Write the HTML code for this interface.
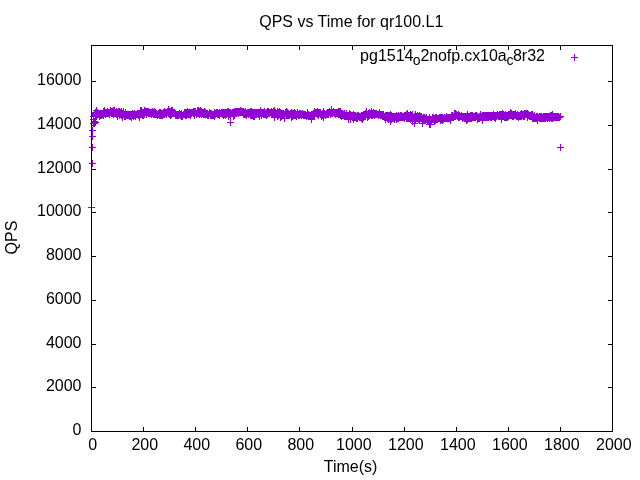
<!DOCTYPE html>
<html><head><meta charset="utf-8"><title>QPS vs Time for qr100.L1</title>
<style>
html,body{margin:0;padding:0;background:#fff}
svg{display:block}
text{font-family:"Liberation Sans",Arial,sans-serif;font-size:16px;fill:#000}
</style></head><body>
<svg width="640" height="480" viewBox="0 0 640 480">
<rect width="640" height="480" fill="#fff"/>
<text x="351.25" y="26.75" text-anchor="middle">QPS vs Time for qr100.L1</text>
<text transform="translate(16.8,237.5) rotate(-90)" text-anchor="middle">QPS</text>
<text x="350.6" y="472" text-anchor="middle">Time(s)</text>
<g><text x="92.8" y="450" text-anchor="middle">0</text><text x="144.8" y="450" text-anchor="middle">200</text><text x="196.8" y="450" text-anchor="middle">400</text><text x="248.8" y="450" text-anchor="middle">600</text><text x="300.8" y="450" text-anchor="middle">800</text><text x="353.8" y="450" text-anchor="middle">1000</text><text x="405.8" y="450" text-anchor="middle">1200</text><text x="457.8" y="450" text-anchor="middle">1400</text><text x="509.8" y="450" text-anchor="middle">1600</text><text x="561.8" y="450" text-anchor="middle">1800</text><text x="613.8" y="450" text-anchor="middle">2000</text></g>
<g><text x="81.5" y="435.0" text-anchor="end">0</text><text x="81.5" y="391.0" text-anchor="end">2000</text><text x="81.5" y="348.0" text-anchor="end">4000</text><text x="81.5" y="304.0" text-anchor="end">6000</text><text x="81.5" y="260.0" text-anchor="end">8000</text><text x="81.5" y="216.0" text-anchor="end">10000</text><text x="81.5" y="173.0" text-anchor="end">12000</text><text x="81.5" y="129.0" text-anchor="end">14000</text><text x="81.5" y="85.0" text-anchor="end">16000</text></g>
<text y="61"><tspan x="360.1">pg1514</tspan><tspan x="412.85" font-size="14" dy="3.5">o</tspan><tspan x="420.5" dy="-3.5" letter-spacing="-0.11">2nofp.cx10a</tspan><tspan x="506.6" font-size="14" dy="3.5">c</tspan><tspan x="512.97" dy="-3.5">8r32</tspan></text>
<path d="M143.5 431.5v-4.5M143.5 45.5v4.5M195.5 431.5v-4.5M195.5 45.5v4.5M247.5 431.5v-4.5M247.5 45.5v4.5M299.5 431.5v-4.5M299.5 45.5v4.5M352.5 431.5v-4.5M352.5 45.5v4.5M404.5 431.5v-4.5M404.5 45.5v4.5M456.5 431.5v-4.5M456.5 45.5v4.5M508.5 431.5v-4.5M508.5 45.5v4.5M560.5 431.5v-4.5M560.5 45.5v4.5M91.5 387.5h4.5M612.5 387.5h-4.5M91.5 344.5h4.5M612.5 344.5h-4.5M91.5 300.5h4.5M612.5 300.5h-4.5M91.5 256.5h4.5M612.5 256.5h-4.5M91.5 212.5h4.5M612.5 212.5h-4.5M91.5 169.5h4.5M612.5 169.5h-4.5M91.5 125.5h4.5M612.5 125.5h-4.5M91.5 81.5h4.5M612.5 81.5h-4.5" fill="none" stroke="#000" stroke-width="1"/>
<path d="M88 207.5h7m-3.5-3.5v7M89 163.5h7m-3.5-3.5v7M89 147.5h7m-3.5-3.5v7M89 136.5h7m-3.5-3.5v7M89 130.5h7m-3.5-3.5v7M90 123.5h7m-3.5-3.5v7M90 119.5h7m-3.5-3.5v7M90 116.5h7m-3.5-3.5v7M91 121.5h7m-3.5-3.5v7M92 122.5h7m-3.5-3.5v7M91 123.5h7m-3.5-3.5v7M91 113.5h7m-3.5-3.5v7M92 112.5h7m-3.5-3.5v7M92 114.5h7m-3.5-3.5v7M92 115.5h7m-3.5-3.5v7M92 113.5h7m-3.5-3.5v7M92 113.5h7m-3.5-3.5v7M93 113.5h7m-3.5-3.5v7M93 112.5h7m-3.5-3.5v7M93 110.5h7m-3.5-3.5v7M93 115.5h7m-3.5-3.5v7M94 114.5h7m-3.5-3.5v7M94 114.5h7m-3.5-3.5v7M94 112.5h7m-3.5-3.5v7M95 114.5h7m-3.5-3.5v7M95 113.5h7m-3.5-3.5v7M95 114.5h7m-3.5-3.5v7M95 113.5h7m-3.5-3.5v7M96 113.5h7m-3.5-3.5v7M96 113.5h7m-3.5-3.5v7M96 116.5h7m-3.5-3.5v7M96 113.5h7m-3.5-3.5v7M97 114.5h7m-3.5-3.5v7M97 113.5h7m-3.5-3.5v7M97 115.5h7m-3.5-3.5v7M97 115.5h7m-3.5-3.5v7M98 114.5h7m-3.5-3.5v7M98 115.5h7m-3.5-3.5v7M98 114.5h7m-3.5-3.5v7M98 113.5h7m-3.5-3.5v7M99 114.5h7m-3.5-3.5v7M99 113.5h7m-3.5-3.5v7M99 114.5h7m-3.5-3.5v7M99 114.5h7m-3.5-3.5v7M100 112.5h7m-3.5-3.5v7M100 115.5h7m-3.5-3.5v7M100 111.5h7m-3.5-3.5v7M101 111.5h7m-3.5-3.5v7M101 113.5h7m-3.5-3.5v7M101 110.5h7m-3.5-3.5v7M101 111.5h7m-3.5-3.5v7M102 114.5h7m-3.5-3.5v7M102 113.5h7m-3.5-3.5v7M102 112.5h7m-3.5-3.5v7M102 112.5h7m-3.5-3.5v7M103 112.5h7m-3.5-3.5v7M103 113.5h7m-3.5-3.5v7M103 112.5h7m-3.5-3.5v7M103 112.5h7m-3.5-3.5v7M104 111.5h7m-3.5-3.5v7M104 113.5h7m-3.5-3.5v7M104 111.5h7m-3.5-3.5v7M104 112.5h7m-3.5-3.5v7M105 112.5h7m-3.5-3.5v7M105 112.5h7m-3.5-3.5v7M105 113.5h7m-3.5-3.5v7M105 112.5h7m-3.5-3.5v7M106 112.5h7m-3.5-3.5v7M106 112.5h7m-3.5-3.5v7M106 112.5h7m-3.5-3.5v7M106 114.5h7m-3.5-3.5v7M107 112.5h7m-3.5-3.5v7M107 110.5h7m-3.5-3.5v7M107 112.5h7m-3.5-3.5v7M108 113.5h7m-3.5-3.5v7M108 113.5h7m-3.5-3.5v7M108 112.5h7m-3.5-3.5v7M108 111.5h7m-3.5-3.5v7M109 111.5h7m-3.5-3.5v7M109 113.5h7m-3.5-3.5v7M109 113.5h7m-3.5-3.5v7M109 113.5h7m-3.5-3.5v7M110 114.5h7m-3.5-3.5v7M110 110.5h7m-3.5-3.5v7M110 113.5h7m-3.5-3.5v7M110 113.5h7m-3.5-3.5v7M111 111.5h7m-3.5-3.5v7M111 111.5h7m-3.5-3.5v7M111 113.5h7m-3.5-3.5v7M111 110.5h7m-3.5-3.5v7M112 112.5h7m-3.5-3.5v7M112 112.5h7m-3.5-3.5v7M112 113.5h7m-3.5-3.5v7M112 113.5h7m-3.5-3.5v7M113 114.5h7m-3.5-3.5v7M113 111.5h7m-3.5-3.5v7M113 113.5h7m-3.5-3.5v7M114 116.5h7m-3.5-3.5v7M114 113.5h7m-3.5-3.5v7M114 112.5h7m-3.5-3.5v7M114 112.5h7m-3.5-3.5v7M115 112.5h7m-3.5-3.5v7M115 112.5h7m-3.5-3.5v7M115 113.5h7m-3.5-3.5v7M115 111.5h7m-3.5-3.5v7M116 113.5h7m-3.5-3.5v7M116 112.5h7m-3.5-3.5v7M116 115.5h7m-3.5-3.5v7M116 111.5h7m-3.5-3.5v7M117 114.5h7m-3.5-3.5v7M117 114.5h7m-3.5-3.5v7M117 112.5h7m-3.5-3.5v7M117 112.5h7m-3.5-3.5v7M118 115.5h7m-3.5-3.5v7M118 115.5h7m-3.5-3.5v7M118 111.5h7m-3.5-3.5v7M118 114.5h7m-3.5-3.5v7M119 113.5h7m-3.5-3.5v7M119 117.5h7m-3.5-3.5v7M119 115.5h7m-3.5-3.5v7M120 114.5h7m-3.5-3.5v7M120 114.5h7m-3.5-3.5v7M120 111.5h7m-3.5-3.5v7M120 114.5h7m-3.5-3.5v7M121 115.5h7m-3.5-3.5v7M121 115.5h7m-3.5-3.5v7M121 116.5h7m-3.5-3.5v7M121 114.5h7m-3.5-3.5v7M122 113.5h7m-3.5-3.5v7M122 116.5h7m-3.5-3.5v7M122 115.5h7m-3.5-3.5v7M122 112.5h7m-3.5-3.5v7M123 114.5h7m-3.5-3.5v7M123 115.5h7m-3.5-3.5v7M123 115.5h7m-3.5-3.5v7M123 115.5h7m-3.5-3.5v7M124 114.5h7m-3.5-3.5v7M124 115.5h7m-3.5-3.5v7M124 115.5h7m-3.5-3.5v7M124 115.5h7m-3.5-3.5v7M125 114.5h7m-3.5-3.5v7M125 114.5h7m-3.5-3.5v7M125 115.5h7m-3.5-3.5v7M126 114.5h7m-3.5-3.5v7M126 114.5h7m-3.5-3.5v7M126 116.5h7m-3.5-3.5v7M126 115.5h7m-3.5-3.5v7M127 116.5h7m-3.5-3.5v7M127 114.5h7m-3.5-3.5v7M127 115.5h7m-3.5-3.5v7M127 116.5h7m-3.5-3.5v7M128 115.5h7m-3.5-3.5v7M128 117.5h7m-3.5-3.5v7M128 114.5h7m-3.5-3.5v7M128 115.5h7m-3.5-3.5v7M129 113.5h7m-3.5-3.5v7M129 115.5h7m-3.5-3.5v7M129 115.5h7m-3.5-3.5v7M129 114.5h7m-3.5-3.5v7M130 115.5h7m-3.5-3.5v7M130 115.5h7m-3.5-3.5v7M130 116.5h7m-3.5-3.5v7M130 114.5h7m-3.5-3.5v7M131 113.5h7m-3.5-3.5v7M131 115.5h7m-3.5-3.5v7M131 114.5h7m-3.5-3.5v7M132 114.5h7m-3.5-3.5v7M132 116.5h7m-3.5-3.5v7M132 115.5h7m-3.5-3.5v7M132 114.5h7m-3.5-3.5v7M133 114.5h7m-3.5-3.5v7M133 114.5h7m-3.5-3.5v7M133 114.5h7m-3.5-3.5v7M133 114.5h7m-3.5-3.5v7M134 114.5h7m-3.5-3.5v7M134 113.5h7m-3.5-3.5v7M134 114.5h7m-3.5-3.5v7M134 114.5h7m-3.5-3.5v7M135 114.5h7m-3.5-3.5v7M135 115.5h7m-3.5-3.5v7M135 114.5h7m-3.5-3.5v7M135 113.5h7m-3.5-3.5v7M136 114.5h7m-3.5-3.5v7M136 117.5h7m-3.5-3.5v7M136 113.5h7m-3.5-3.5v7M136 113.5h7m-3.5-3.5v7M137 114.5h7m-3.5-3.5v7M137 110.5h7m-3.5-3.5v7M137 113.5h7m-3.5-3.5v7M137 113.5h7m-3.5-3.5v7M138 110.5h7m-3.5-3.5v7M138 112.5h7m-3.5-3.5v7M138 113.5h7m-3.5-3.5v7M139 115.5h7m-3.5-3.5v7M139 113.5h7m-3.5-3.5v7M139 114.5h7m-3.5-3.5v7M139 112.5h7m-3.5-3.5v7M140 112.5h7m-3.5-3.5v7M140 114.5h7m-3.5-3.5v7M140 112.5h7m-3.5-3.5v7M140 115.5h7m-3.5-3.5v7M141 110.5h7m-3.5-3.5v7M141 114.5h7m-3.5-3.5v7M141 114.5h7m-3.5-3.5v7M141 112.5h7m-3.5-3.5v7M142 112.5h7m-3.5-3.5v7M142 111.5h7m-3.5-3.5v7M142 111.5h7m-3.5-3.5v7M142 112.5h7m-3.5-3.5v7M143 111.5h7m-3.5-3.5v7M143 111.5h7m-3.5-3.5v7M143 113.5h7m-3.5-3.5v7M143 114.5h7m-3.5-3.5v7M144 111.5h7m-3.5-3.5v7M144 112.5h7m-3.5-3.5v7M144 112.5h7m-3.5-3.5v7M145 113.5h7m-3.5-3.5v7M145 111.5h7m-3.5-3.5v7M145 113.5h7m-3.5-3.5v7M145 113.5h7m-3.5-3.5v7M146 112.5h7m-3.5-3.5v7M146 112.5h7m-3.5-3.5v7M146 113.5h7m-3.5-3.5v7M146 112.5h7m-3.5-3.5v7M147 112.5h7m-3.5-3.5v7M147 112.5h7m-3.5-3.5v7M147 112.5h7m-3.5-3.5v7M147 113.5h7m-3.5-3.5v7M148 112.5h7m-3.5-3.5v7M148 114.5h7m-3.5-3.5v7M148 112.5h7m-3.5-3.5v7M148 114.5h7m-3.5-3.5v7M149 113.5h7m-3.5-3.5v7M149 113.5h7m-3.5-3.5v7M149 113.5h7m-3.5-3.5v7M149 111.5h7m-3.5-3.5v7M150 113.5h7m-3.5-3.5v7M150 112.5h7m-3.5-3.5v7M150 114.5h7m-3.5-3.5v7M151 113.5h7m-3.5-3.5v7M151 114.5h7m-3.5-3.5v7M151 111.5h7m-3.5-3.5v7M151 113.5h7m-3.5-3.5v7M152 113.5h7m-3.5-3.5v7M152 114.5h7m-3.5-3.5v7M152 114.5h7m-3.5-3.5v7M152 112.5h7m-3.5-3.5v7M153 114.5h7m-3.5-3.5v7M153 113.5h7m-3.5-3.5v7M153 113.5h7m-3.5-3.5v7M153 114.5h7m-3.5-3.5v7M154 114.5h7m-3.5-3.5v7M154 115.5h7m-3.5-3.5v7M154 115.5h7m-3.5-3.5v7M154 114.5h7m-3.5-3.5v7M155 114.5h7m-3.5-3.5v7M155 113.5h7m-3.5-3.5v7M155 113.5h7m-3.5-3.5v7M155 113.5h7m-3.5-3.5v7M156 113.5h7m-3.5-3.5v7M156 115.5h7m-3.5-3.5v7M156 112.5h7m-3.5-3.5v7M157 115.5h7m-3.5-3.5v7M157 112.5h7m-3.5-3.5v7M157 115.5h7m-3.5-3.5v7M157 112.5h7m-3.5-3.5v7M158 114.5h7m-3.5-3.5v7M158 114.5h7m-3.5-3.5v7M158 113.5h7m-3.5-3.5v7M158 115.5h7m-3.5-3.5v7M159 113.5h7m-3.5-3.5v7M159 115.5h7m-3.5-3.5v7M159 113.5h7m-3.5-3.5v7M159 113.5h7m-3.5-3.5v7M160 114.5h7m-3.5-3.5v7M160 112.5h7m-3.5-3.5v7M160 113.5h7m-3.5-3.5v7M160 114.5h7m-3.5-3.5v7M161 111.5h7m-3.5-3.5v7M161 113.5h7m-3.5-3.5v7M161 112.5h7m-3.5-3.5v7M161 114.5h7m-3.5-3.5v7M162 113.5h7m-3.5-3.5v7M162 112.5h7m-3.5-3.5v7M162 113.5h7m-3.5-3.5v7M163 112.5h7m-3.5-3.5v7M163 114.5h7m-3.5-3.5v7M163 112.5h7m-3.5-3.5v7M163 112.5h7m-3.5-3.5v7M164 112.5h7m-3.5-3.5v7M164 111.5h7m-3.5-3.5v7M164 111.5h7m-3.5-3.5v7M164 111.5h7m-3.5-3.5v7M165 113.5h7m-3.5-3.5v7M165 110.5h7m-3.5-3.5v7M165 113.5h7m-3.5-3.5v7M165 109.5h7m-3.5-3.5v7M166 114.5h7m-3.5-3.5v7M166 111.5h7m-3.5-3.5v7M166 111.5h7m-3.5-3.5v7M166 114.5h7m-3.5-3.5v7M167 112.5h7m-3.5-3.5v7M167 113.5h7m-3.5-3.5v7M167 115.5h7m-3.5-3.5v7M167 111.5h7m-3.5-3.5v7M168 112.5h7m-3.5-3.5v7M168 114.5h7m-3.5-3.5v7M168 110.5h7m-3.5-3.5v7M168 111.5h7m-3.5-3.5v7M169 112.5h7m-3.5-3.5v7M169 113.5h7m-3.5-3.5v7M169 110.5h7m-3.5-3.5v7M170 113.5h7m-3.5-3.5v7M170 112.5h7m-3.5-3.5v7M170 112.5h7m-3.5-3.5v7M170 113.5h7m-3.5-3.5v7M171 112.5h7m-3.5-3.5v7M171 113.5h7m-3.5-3.5v7M171 113.5h7m-3.5-3.5v7M171 113.5h7m-3.5-3.5v7M172 114.5h7m-3.5-3.5v7M172 114.5h7m-3.5-3.5v7M172 113.5h7m-3.5-3.5v7M172 115.5h7m-3.5-3.5v7M173 114.5h7m-3.5-3.5v7M173 114.5h7m-3.5-3.5v7M173 115.5h7m-3.5-3.5v7M173 114.5h7m-3.5-3.5v7M174 114.5h7m-3.5-3.5v7M174 114.5h7m-3.5-3.5v7M174 115.5h7m-3.5-3.5v7M174 115.5h7m-3.5-3.5v7M175 114.5h7m-3.5-3.5v7M175 114.5h7m-3.5-3.5v7M175 115.5h7m-3.5-3.5v7M176 114.5h7m-3.5-3.5v7M176 114.5h7m-3.5-3.5v7M176 114.5h7m-3.5-3.5v7M176 113.5h7m-3.5-3.5v7M177 114.5h7m-3.5-3.5v7M177 114.5h7m-3.5-3.5v7M177 115.5h7m-3.5-3.5v7M177 115.5h7m-3.5-3.5v7M178 113.5h7m-3.5-3.5v7M178 116.5h7m-3.5-3.5v7M178 115.5h7m-3.5-3.5v7M178 114.5h7m-3.5-3.5v7M179 115.5h7m-3.5-3.5v7M179 115.5h7m-3.5-3.5v7M179 115.5h7m-3.5-3.5v7M179 116.5h7m-3.5-3.5v7M180 114.5h7m-3.5-3.5v7M180 114.5h7m-3.5-3.5v7M180 114.5h7m-3.5-3.5v7M180 114.5h7m-3.5-3.5v7M181 114.5h7m-3.5-3.5v7M181 113.5h7m-3.5-3.5v7M181 112.5h7m-3.5-3.5v7M182 113.5h7m-3.5-3.5v7M182 112.5h7m-3.5-3.5v7M182 115.5h7m-3.5-3.5v7M182 113.5h7m-3.5-3.5v7M183 112.5h7m-3.5-3.5v7M183 113.5h7m-3.5-3.5v7M183 115.5h7m-3.5-3.5v7M183 113.5h7m-3.5-3.5v7M184 113.5h7m-3.5-3.5v7M184 113.5h7m-3.5-3.5v7M184 111.5h7m-3.5-3.5v7M184 114.5h7m-3.5-3.5v7M185 113.5h7m-3.5-3.5v7M185 112.5h7m-3.5-3.5v7M185 112.5h7m-3.5-3.5v7M185 114.5h7m-3.5-3.5v7M186 113.5h7m-3.5-3.5v7M186 114.5h7m-3.5-3.5v7M186 112.5h7m-3.5-3.5v7M186 114.5h7m-3.5-3.5v7M187 112.5h7m-3.5-3.5v7M187 112.5h7m-3.5-3.5v7M187 115.5h7m-3.5-3.5v7M188 112.5h7m-3.5-3.5v7M188 112.5h7m-3.5-3.5v7M188 112.5h7m-3.5-3.5v7M188 113.5h7m-3.5-3.5v7M189 112.5h7m-3.5-3.5v7M189 112.5h7m-3.5-3.5v7M189 112.5h7m-3.5-3.5v7M189 112.5h7m-3.5-3.5v7M190 112.5h7m-3.5-3.5v7M190 111.5h7m-3.5-3.5v7M190 111.5h7m-3.5-3.5v7M190 113.5h7m-3.5-3.5v7M191 115.5h7m-3.5-3.5v7M191 114.5h7m-3.5-3.5v7M191 112.5h7m-3.5-3.5v7M191 111.5h7m-3.5-3.5v7M192 111.5h7m-3.5-3.5v7M192 111.5h7m-3.5-3.5v7M192 112.5h7m-3.5-3.5v7M192 111.5h7m-3.5-3.5v7M193 113.5h7m-3.5-3.5v7M193 114.5h7m-3.5-3.5v7M193 114.5h7m-3.5-3.5v7M194 110.5h7m-3.5-3.5v7M194 111.5h7m-3.5-3.5v7M194 111.5h7m-3.5-3.5v7M194 113.5h7m-3.5-3.5v7M195 110.5h7m-3.5-3.5v7M195 113.5h7m-3.5-3.5v7M195 112.5h7m-3.5-3.5v7M195 113.5h7m-3.5-3.5v7M196 111.5h7m-3.5-3.5v7M196 114.5h7m-3.5-3.5v7M196 113.5h7m-3.5-3.5v7M196 112.5h7m-3.5-3.5v7M197 113.5h7m-3.5-3.5v7M197 110.5h7m-3.5-3.5v7M197 112.5h7m-3.5-3.5v7M197 112.5h7m-3.5-3.5v7M198 111.5h7m-3.5-3.5v7M198 114.5h7m-3.5-3.5v7M198 113.5h7m-3.5-3.5v7M198 112.5h7m-3.5-3.5v7M199 112.5h7m-3.5-3.5v7M199 112.5h7m-3.5-3.5v7M199 113.5h7m-3.5-3.5v7M199 113.5h7m-3.5-3.5v7M200 114.5h7m-3.5-3.5v7M200 113.5h7m-3.5-3.5v7M200 112.5h7m-3.5-3.5v7M201 112.5h7m-3.5-3.5v7M201 111.5h7m-3.5-3.5v7M201 114.5h7m-3.5-3.5v7M201 113.5h7m-3.5-3.5v7M202 112.5h7m-3.5-3.5v7M202 113.5h7m-3.5-3.5v7M202 114.5h7m-3.5-3.5v7M202 114.5h7m-3.5-3.5v7M203 114.5h7m-3.5-3.5v7M203 113.5h7m-3.5-3.5v7M203 114.5h7m-3.5-3.5v7M203 114.5h7m-3.5-3.5v7M204 114.5h7m-3.5-3.5v7M204 114.5h7m-3.5-3.5v7M204 115.5h7m-3.5-3.5v7M204 113.5h7m-3.5-3.5v7M205 115.5h7m-3.5-3.5v7M205 114.5h7m-3.5-3.5v7M205 114.5h7m-3.5-3.5v7M205 114.5h7m-3.5-3.5v7M206 113.5h7m-3.5-3.5v7M206 113.5h7m-3.5-3.5v7M206 112.5h7m-3.5-3.5v7M207 115.5h7m-3.5-3.5v7M207 113.5h7m-3.5-3.5v7M207 114.5h7m-3.5-3.5v7M207 115.5h7m-3.5-3.5v7M208 113.5h7m-3.5-3.5v7M208 115.5h7m-3.5-3.5v7M208 114.5h7m-3.5-3.5v7M208 113.5h7m-3.5-3.5v7M209 114.5h7m-3.5-3.5v7M209 114.5h7m-3.5-3.5v7M209 115.5h7m-3.5-3.5v7M209 115.5h7m-3.5-3.5v7M210 114.5h7m-3.5-3.5v7M210 115.5h7m-3.5-3.5v7M210 114.5h7m-3.5-3.5v7M210 114.5h7m-3.5-3.5v7M211 112.5h7m-3.5-3.5v7M211 112.5h7m-3.5-3.5v7M211 114.5h7m-3.5-3.5v7M211 116.5h7m-3.5-3.5v7M212 114.5h7m-3.5-3.5v7M212 113.5h7m-3.5-3.5v7M212 114.5h7m-3.5-3.5v7M213 113.5h7m-3.5-3.5v7M213 112.5h7m-3.5-3.5v7M213 112.5h7m-3.5-3.5v7M213 112.5h7m-3.5-3.5v7M214 112.5h7m-3.5-3.5v7M214 112.5h7m-3.5-3.5v7M214 114.5h7m-3.5-3.5v7M214 114.5h7m-3.5-3.5v7M215 113.5h7m-3.5-3.5v7M215 114.5h7m-3.5-3.5v7M215 113.5h7m-3.5-3.5v7M215 114.5h7m-3.5-3.5v7M216 112.5h7m-3.5-3.5v7M216 114.5h7m-3.5-3.5v7M216 113.5h7m-3.5-3.5v7M216 115.5h7m-3.5-3.5v7M217 113.5h7m-3.5-3.5v7M217 113.5h7m-3.5-3.5v7M217 113.5h7m-3.5-3.5v7M217 113.5h7m-3.5-3.5v7M218 112.5h7m-3.5-3.5v7M218 112.5h7m-3.5-3.5v7M218 113.5h7m-3.5-3.5v7M219 114.5h7m-3.5-3.5v7M219 112.5h7m-3.5-3.5v7M219 113.5h7m-3.5-3.5v7M219 112.5h7m-3.5-3.5v7M220 113.5h7m-3.5-3.5v7M220 115.5h7m-3.5-3.5v7M220 113.5h7m-3.5-3.5v7M220 112.5h7m-3.5-3.5v7M221 114.5h7m-3.5-3.5v7M221 114.5h7m-3.5-3.5v7M221 113.5h7m-3.5-3.5v7M221 112.5h7m-3.5-3.5v7M222 113.5h7m-3.5-3.5v7M222 112.5h7m-3.5-3.5v7M222 115.5h7m-3.5-3.5v7M222 113.5h7m-3.5-3.5v7M223 114.5h7m-3.5-3.5v7M223 114.5h7m-3.5-3.5v7M223 112.5h7m-3.5-3.5v7M223 112.5h7m-3.5-3.5v7M224 111.5h7m-3.5-3.5v7M224 112.5h7m-3.5-3.5v7M224 111.5h7m-3.5-3.5v7M225 116.5h7m-3.5-3.5v7M225 113.5h7m-3.5-3.5v7M225 114.5h7m-3.5-3.5v7M225 111.5h7m-3.5-3.5v7M226 112.5h7m-3.5-3.5v7M226 112.5h7m-3.5-3.5v7M226 114.5h7m-3.5-3.5v7M226 114.5h7m-3.5-3.5v7M227 112.5h7m-3.5-3.5v7M227 115.5h7m-3.5-3.5v7M227 112.5h7m-3.5-3.5v7M227 114.5h7m-3.5-3.5v7M228 113.5h7m-3.5-3.5v7M228 113.5h7m-3.5-3.5v7M228 113.5h7m-3.5-3.5v7M228 113.5h7m-3.5-3.5v7M229 112.5h7m-3.5-3.5v7M229 113.5h7m-3.5-3.5v7M229 113.5h7m-3.5-3.5v7M229 113.5h7m-3.5-3.5v7M230 116.5h7m-3.5-3.5v7M230 112.5h7m-3.5-3.5v7M230 114.5h7m-3.5-3.5v7M230 113.5h7m-3.5-3.5v7M231 111.5h7m-3.5-3.5v7M231 111.5h7m-3.5-3.5v7M231 115.5h7m-3.5-3.5v7M232 112.5h7m-3.5-3.5v7M232 112.5h7m-3.5-3.5v7M232 111.5h7m-3.5-3.5v7M232 111.5h7m-3.5-3.5v7M233 111.5h7m-3.5-3.5v7M233 111.5h7m-3.5-3.5v7M233 111.5h7m-3.5-3.5v7M233 112.5h7m-3.5-3.5v7M234 111.5h7m-3.5-3.5v7M234 112.5h7m-3.5-3.5v7M234 111.5h7m-3.5-3.5v7M234 111.5h7m-3.5-3.5v7M235 112.5h7m-3.5-3.5v7M235 113.5h7m-3.5-3.5v7M235 111.5h7m-3.5-3.5v7M235 111.5h7m-3.5-3.5v7M236 111.5h7m-3.5-3.5v7M236 112.5h7m-3.5-3.5v7M236 111.5h7m-3.5-3.5v7M236 112.5h7m-3.5-3.5v7M237 111.5h7m-3.5-3.5v7M237 112.5h7m-3.5-3.5v7M237 110.5h7m-3.5-3.5v7M238 112.5h7m-3.5-3.5v7M238 112.5h7m-3.5-3.5v7M238 112.5h7m-3.5-3.5v7M238 111.5h7m-3.5-3.5v7M239 111.5h7m-3.5-3.5v7M239 112.5h7m-3.5-3.5v7M239 112.5h7m-3.5-3.5v7M239 112.5h7m-3.5-3.5v7M240 114.5h7m-3.5-3.5v7M240 113.5h7m-3.5-3.5v7M240 113.5h7m-3.5-3.5v7M240 111.5h7m-3.5-3.5v7M241 113.5h7m-3.5-3.5v7M241 112.5h7m-3.5-3.5v7M241 114.5h7m-3.5-3.5v7M241 113.5h7m-3.5-3.5v7M242 113.5h7m-3.5-3.5v7M242 114.5h7m-3.5-3.5v7M242 111.5h7m-3.5-3.5v7M242 114.5h7m-3.5-3.5v7M243 115.5h7m-3.5-3.5v7M243 115.5h7m-3.5-3.5v7M243 113.5h7m-3.5-3.5v7M244 112.5h7m-3.5-3.5v7M244 113.5h7m-3.5-3.5v7M244 113.5h7m-3.5-3.5v7M244 113.5h7m-3.5-3.5v7M245 113.5h7m-3.5-3.5v7M245 114.5h7m-3.5-3.5v7M245 113.5h7m-3.5-3.5v7M245 112.5h7m-3.5-3.5v7M246 112.5h7m-3.5-3.5v7M246 112.5h7m-3.5-3.5v7M246 113.5h7m-3.5-3.5v7M246 113.5h7m-3.5-3.5v7M247 112.5h7m-3.5-3.5v7M247 115.5h7m-3.5-3.5v7M247 111.5h7m-3.5-3.5v7M247 114.5h7m-3.5-3.5v7M248 111.5h7m-3.5-3.5v7M248 112.5h7m-3.5-3.5v7M248 112.5h7m-3.5-3.5v7M248 115.5h7m-3.5-3.5v7M249 115.5h7m-3.5-3.5v7M249 114.5h7m-3.5-3.5v7M249 112.5h7m-3.5-3.5v7M250 116.5h7m-3.5-3.5v7M250 115.5h7m-3.5-3.5v7M250 112.5h7m-3.5-3.5v7M250 113.5h7m-3.5-3.5v7M251 116.5h7m-3.5-3.5v7M251 113.5h7m-3.5-3.5v7M251 113.5h7m-3.5-3.5v7M251 112.5h7m-3.5-3.5v7M252 113.5h7m-3.5-3.5v7M252 113.5h7m-3.5-3.5v7M252 114.5h7m-3.5-3.5v7M252 112.5h7m-3.5-3.5v7M253 113.5h7m-3.5-3.5v7M253 112.5h7m-3.5-3.5v7M253 113.5h7m-3.5-3.5v7M253 114.5h7m-3.5-3.5v7M254 113.5h7m-3.5-3.5v7M254 113.5h7m-3.5-3.5v7M254 113.5h7m-3.5-3.5v7M254 112.5h7m-3.5-3.5v7M255 114.5h7m-3.5-3.5v7M255 112.5h7m-3.5-3.5v7M255 112.5h7m-3.5-3.5v7M256 116.5h7m-3.5-3.5v7M256 112.5h7m-3.5-3.5v7M256 112.5h7m-3.5-3.5v7M256 112.5h7m-3.5-3.5v7M257 112.5h7m-3.5-3.5v7M257 112.5h7m-3.5-3.5v7M257 110.5h7m-3.5-3.5v7M257 112.5h7m-3.5-3.5v7M258 113.5h7m-3.5-3.5v7M258 115.5h7m-3.5-3.5v7M258 112.5h7m-3.5-3.5v7M258 113.5h7m-3.5-3.5v7M259 113.5h7m-3.5-3.5v7M259 112.5h7m-3.5-3.5v7M259 113.5h7m-3.5-3.5v7M259 113.5h7m-3.5-3.5v7M260 112.5h7m-3.5-3.5v7M260 113.5h7m-3.5-3.5v7M260 113.5h7m-3.5-3.5v7M260 114.5h7m-3.5-3.5v7M261 112.5h7m-3.5-3.5v7M261 114.5h7m-3.5-3.5v7M261 113.5h7m-3.5-3.5v7M261 111.5h7m-3.5-3.5v7M262 113.5h7m-3.5-3.5v7M262 113.5h7m-3.5-3.5v7M262 114.5h7m-3.5-3.5v7M263 115.5h7m-3.5-3.5v7M263 115.5h7m-3.5-3.5v7M263 114.5h7m-3.5-3.5v7M263 112.5h7m-3.5-3.5v7M264 113.5h7m-3.5-3.5v7M264 114.5h7m-3.5-3.5v7M264 111.5h7m-3.5-3.5v7M264 114.5h7m-3.5-3.5v7M265 111.5h7m-3.5-3.5v7M265 112.5h7m-3.5-3.5v7M265 113.5h7m-3.5-3.5v7M265 113.5h7m-3.5-3.5v7M266 112.5h7m-3.5-3.5v7M266 113.5h7m-3.5-3.5v7M266 112.5h7m-3.5-3.5v7M266 112.5h7m-3.5-3.5v7M267 112.5h7m-3.5-3.5v7M267 112.5h7m-3.5-3.5v7M267 112.5h7m-3.5-3.5v7M267 112.5h7m-3.5-3.5v7M268 111.5h7m-3.5-3.5v7M268 112.5h7m-3.5-3.5v7M268 114.5h7m-3.5-3.5v7M269 113.5h7m-3.5-3.5v7M269 112.5h7m-3.5-3.5v7M269 112.5h7m-3.5-3.5v7M269 112.5h7m-3.5-3.5v7M270 113.5h7m-3.5-3.5v7M270 111.5h7m-3.5-3.5v7M270 112.5h7m-3.5-3.5v7M270 112.5h7m-3.5-3.5v7M271 117.5h7m-3.5-3.5v7M271 110.5h7m-3.5-3.5v7M271 113.5h7m-3.5-3.5v7M271 112.5h7m-3.5-3.5v7M272 112.5h7m-3.5-3.5v7M272 112.5h7m-3.5-3.5v7M272 114.5h7m-3.5-3.5v7M272 112.5h7m-3.5-3.5v7M273 113.5h7m-3.5-3.5v7M273 113.5h7m-3.5-3.5v7M273 113.5h7m-3.5-3.5v7M273 114.5h7m-3.5-3.5v7M274 116.5h7m-3.5-3.5v7M274 111.5h7m-3.5-3.5v7M274 114.5h7m-3.5-3.5v7M275 112.5h7m-3.5-3.5v7M275 114.5h7m-3.5-3.5v7M275 115.5h7m-3.5-3.5v7M275 113.5h7m-3.5-3.5v7M276 113.5h7m-3.5-3.5v7M276 113.5h7m-3.5-3.5v7M276 111.5h7m-3.5-3.5v7M276 111.5h7m-3.5-3.5v7M277 113.5h7m-3.5-3.5v7M277 117.5h7m-3.5-3.5v7M277 113.5h7m-3.5-3.5v7M277 112.5h7m-3.5-3.5v7M278 114.5h7m-3.5-3.5v7M278 116.5h7m-3.5-3.5v7M278 113.5h7m-3.5-3.5v7M278 114.5h7m-3.5-3.5v7M279 114.5h7m-3.5-3.5v7M279 113.5h7m-3.5-3.5v7M279 113.5h7m-3.5-3.5v7M279 113.5h7m-3.5-3.5v7M280 113.5h7m-3.5-3.5v7M280 113.5h7m-3.5-3.5v7M280 115.5h7m-3.5-3.5v7M281 115.5h7m-3.5-3.5v7M281 114.5h7m-3.5-3.5v7M281 118.5h7m-3.5-3.5v7M281 114.5h7m-3.5-3.5v7M282 113.5h7m-3.5-3.5v7M282 113.5h7m-3.5-3.5v7M282 113.5h7m-3.5-3.5v7M282 112.5h7m-3.5-3.5v7M283 112.5h7m-3.5-3.5v7M283 115.5h7m-3.5-3.5v7M283 113.5h7m-3.5-3.5v7M283 111.5h7m-3.5-3.5v7M284 112.5h7m-3.5-3.5v7M284 113.5h7m-3.5-3.5v7M284 113.5h7m-3.5-3.5v7M284 114.5h7m-3.5-3.5v7M285 114.5h7m-3.5-3.5v7M285 113.5h7m-3.5-3.5v7M285 113.5h7m-3.5-3.5v7M285 115.5h7m-3.5-3.5v7M286 115.5h7m-3.5-3.5v7M286 114.5h7m-3.5-3.5v7M286 114.5h7m-3.5-3.5v7M287 114.5h7m-3.5-3.5v7M287 114.5h7m-3.5-3.5v7M287 114.5h7m-3.5-3.5v7M287 113.5h7m-3.5-3.5v7M288 114.5h7m-3.5-3.5v7M288 117.5h7m-3.5-3.5v7M288 113.5h7m-3.5-3.5v7M288 112.5h7m-3.5-3.5v7M289 113.5h7m-3.5-3.5v7M289 113.5h7m-3.5-3.5v7M289 113.5h7m-3.5-3.5v7M289 116.5h7m-3.5-3.5v7M290 113.5h7m-3.5-3.5v7M290 114.5h7m-3.5-3.5v7M290 115.5h7m-3.5-3.5v7M290 115.5h7m-3.5-3.5v7M291 113.5h7m-3.5-3.5v7M291 114.5h7m-3.5-3.5v7M291 115.5h7m-3.5-3.5v7M291 112.5h7m-3.5-3.5v7M292 115.5h7m-3.5-3.5v7M292 114.5h7m-3.5-3.5v7M292 113.5h7m-3.5-3.5v7M292 113.5h7m-3.5-3.5v7M293 116.5h7m-3.5-3.5v7M293 115.5h7m-3.5-3.5v7M293 114.5h7m-3.5-3.5v7M294 114.5h7m-3.5-3.5v7M294 113.5h7m-3.5-3.5v7M294 113.5h7m-3.5-3.5v7M294 112.5h7m-3.5-3.5v7M295 114.5h7m-3.5-3.5v7M295 114.5h7m-3.5-3.5v7M295 114.5h7m-3.5-3.5v7M295 115.5h7m-3.5-3.5v7M296 115.5h7m-3.5-3.5v7M296 114.5h7m-3.5-3.5v7M296 113.5h7m-3.5-3.5v7M296 115.5h7m-3.5-3.5v7M297 114.5h7m-3.5-3.5v7M297 113.5h7m-3.5-3.5v7M297 113.5h7m-3.5-3.5v7M297 114.5h7m-3.5-3.5v7M298 114.5h7m-3.5-3.5v7M298 114.5h7m-3.5-3.5v7M298 115.5h7m-3.5-3.5v7M298 115.5h7m-3.5-3.5v7M299 114.5h7m-3.5-3.5v7M299 114.5h7m-3.5-3.5v7M299 113.5h7m-3.5-3.5v7M300 115.5h7m-3.5-3.5v7M300 114.5h7m-3.5-3.5v7M300 114.5h7m-3.5-3.5v7M300 115.5h7m-3.5-3.5v7M301 114.5h7m-3.5-3.5v7M301 114.5h7m-3.5-3.5v7M301 114.5h7m-3.5-3.5v7M301 115.5h7m-3.5-3.5v7M302 114.5h7m-3.5-3.5v7M302 115.5h7m-3.5-3.5v7M302 115.5h7m-3.5-3.5v7M302 115.5h7m-3.5-3.5v7M303 116.5h7m-3.5-3.5v7M303 115.5h7m-3.5-3.5v7M303 115.5h7m-3.5-3.5v7M303 115.5h7m-3.5-3.5v7M304 115.5h7m-3.5-3.5v7M304 112.5h7m-3.5-3.5v7M304 115.5h7m-3.5-3.5v7M304 115.5h7m-3.5-3.5v7M305 115.5h7m-3.5-3.5v7M305 114.5h7m-3.5-3.5v7M305 115.5h7m-3.5-3.5v7M306 116.5h7m-3.5-3.5v7M306 116.5h7m-3.5-3.5v7M306 115.5h7m-3.5-3.5v7M306 116.5h7m-3.5-3.5v7M307 115.5h7m-3.5-3.5v7M307 116.5h7m-3.5-3.5v7M307 116.5h7m-3.5-3.5v7M307 116.5h7m-3.5-3.5v7M308 119.5h7m-3.5-3.5v7M308 115.5h7m-3.5-3.5v7M308 114.5h7m-3.5-3.5v7M308 114.5h7m-3.5-3.5v7M309 115.5h7m-3.5-3.5v7M309 114.5h7m-3.5-3.5v7M309 115.5h7m-3.5-3.5v7M309 114.5h7m-3.5-3.5v7M310 115.5h7m-3.5-3.5v7M310 115.5h7m-3.5-3.5v7M310 114.5h7m-3.5-3.5v7M310 113.5h7m-3.5-3.5v7M311 115.5h7m-3.5-3.5v7M311 111.5h7m-3.5-3.5v7M311 115.5h7m-3.5-3.5v7M312 113.5h7m-3.5-3.5v7M312 112.5h7m-3.5-3.5v7M312 113.5h7m-3.5-3.5v7M312 113.5h7m-3.5-3.5v7M313 113.5h7m-3.5-3.5v7M313 112.5h7m-3.5-3.5v7M313 112.5h7m-3.5-3.5v7M313 113.5h7m-3.5-3.5v7M314 114.5h7m-3.5-3.5v7M314 114.5h7m-3.5-3.5v7M314 113.5h7m-3.5-3.5v7M314 111.5h7m-3.5-3.5v7M315 114.5h7m-3.5-3.5v7M315 112.5h7m-3.5-3.5v7M315 115.5h7m-3.5-3.5v7M315 115.5h7m-3.5-3.5v7M316 113.5h7m-3.5-3.5v7M316 113.5h7m-3.5-3.5v7M316 112.5h7m-3.5-3.5v7M316 112.5h7m-3.5-3.5v7M317 114.5h7m-3.5-3.5v7M317 113.5h7m-3.5-3.5v7M317 112.5h7m-3.5-3.5v7M318 116.5h7m-3.5-3.5v7M318 115.5h7m-3.5-3.5v7M318 115.5h7m-3.5-3.5v7M318 114.5h7m-3.5-3.5v7M319 115.5h7m-3.5-3.5v7M319 114.5h7m-3.5-3.5v7M319 114.5h7m-3.5-3.5v7M319 113.5h7m-3.5-3.5v7M320 113.5h7m-3.5-3.5v7M320 117.5h7m-3.5-3.5v7M320 111.5h7m-3.5-3.5v7M320 114.5h7m-3.5-3.5v7M321 113.5h7m-3.5-3.5v7M321 113.5h7m-3.5-3.5v7M321 114.5h7m-3.5-3.5v7M321 114.5h7m-3.5-3.5v7M322 114.5h7m-3.5-3.5v7M322 114.5h7m-3.5-3.5v7M322 114.5h7m-3.5-3.5v7M322 115.5h7m-3.5-3.5v7M323 114.5h7m-3.5-3.5v7M323 114.5h7m-3.5-3.5v7M323 113.5h7m-3.5-3.5v7M323 113.5h7m-3.5-3.5v7M324 114.5h7m-3.5-3.5v7M324 112.5h7m-3.5-3.5v7M324 112.5h7m-3.5-3.5v7M325 112.5h7m-3.5-3.5v7M325 113.5h7m-3.5-3.5v7M325 112.5h7m-3.5-3.5v7M325 114.5h7m-3.5-3.5v7M326 112.5h7m-3.5-3.5v7M326 112.5h7m-3.5-3.5v7M326 111.5h7m-3.5-3.5v7M326 112.5h7m-3.5-3.5v7M327 114.5h7m-3.5-3.5v7M327 112.5h7m-3.5-3.5v7M327 112.5h7m-3.5-3.5v7M327 112.5h7m-3.5-3.5v7M328 113.5h7m-3.5-3.5v7M328 112.5h7m-3.5-3.5v7M328 109.5h7m-3.5-3.5v7M328 111.5h7m-3.5-3.5v7M329 113.5h7m-3.5-3.5v7M329 113.5h7m-3.5-3.5v7M329 113.5h7m-3.5-3.5v7M329 113.5h7m-3.5-3.5v7M330 111.5h7m-3.5-3.5v7M330 111.5h7m-3.5-3.5v7M330 112.5h7m-3.5-3.5v7M331 112.5h7m-3.5-3.5v7M331 113.5h7m-3.5-3.5v7M331 113.5h7m-3.5-3.5v7M331 112.5h7m-3.5-3.5v7M332 114.5h7m-3.5-3.5v7M332 113.5h7m-3.5-3.5v7M332 113.5h7m-3.5-3.5v7M332 112.5h7m-3.5-3.5v7M333 112.5h7m-3.5-3.5v7M333 113.5h7m-3.5-3.5v7M333 113.5h7m-3.5-3.5v7M333 113.5h7m-3.5-3.5v7M334 113.5h7m-3.5-3.5v7M334 112.5h7m-3.5-3.5v7M334 113.5h7m-3.5-3.5v7M334 113.5h7m-3.5-3.5v7M335 113.5h7m-3.5-3.5v7M335 114.5h7m-3.5-3.5v7M335 111.5h7m-3.5-3.5v7M335 114.5h7m-3.5-3.5v7M336 114.5h7m-3.5-3.5v7M336 114.5h7m-3.5-3.5v7M336 111.5h7m-3.5-3.5v7M337 113.5h7m-3.5-3.5v7M337 114.5h7m-3.5-3.5v7M337 115.5h7m-3.5-3.5v7M337 111.5h7m-3.5-3.5v7M338 115.5h7m-3.5-3.5v7M338 114.5h7m-3.5-3.5v7M338 113.5h7m-3.5-3.5v7M338 116.5h7m-3.5-3.5v7M339 113.5h7m-3.5-3.5v7M339 115.5h7m-3.5-3.5v7M339 115.5h7m-3.5-3.5v7M339 114.5h7m-3.5-3.5v7M340 115.5h7m-3.5-3.5v7M340 115.5h7m-3.5-3.5v7M340 115.5h7m-3.5-3.5v7M340 115.5h7m-3.5-3.5v7M341 115.5h7m-3.5-3.5v7M341 113.5h7m-3.5-3.5v7M341 115.5h7m-3.5-3.5v7M341 116.5h7m-3.5-3.5v7M342 115.5h7m-3.5-3.5v7M342 116.5h7m-3.5-3.5v7M342 116.5h7m-3.5-3.5v7M343 113.5h7m-3.5-3.5v7M343 116.5h7m-3.5-3.5v7M343 115.5h7m-3.5-3.5v7M343 115.5h7m-3.5-3.5v7M344 115.5h7m-3.5-3.5v7M344 115.5h7m-3.5-3.5v7M344 115.5h7m-3.5-3.5v7M344 115.5h7m-3.5-3.5v7M345 119.5h7m-3.5-3.5v7M345 115.5h7m-3.5-3.5v7M345 115.5h7m-3.5-3.5v7M345 115.5h7m-3.5-3.5v7M346 115.5h7m-3.5-3.5v7M346 113.5h7m-3.5-3.5v7M346 115.5h7m-3.5-3.5v7M346 115.5h7m-3.5-3.5v7M347 115.5h7m-3.5-3.5v7M347 114.5h7m-3.5-3.5v7M347 119.5h7m-3.5-3.5v7M347 114.5h7m-3.5-3.5v7M348 115.5h7m-3.5-3.5v7M348 115.5h7m-3.5-3.5v7M348 116.5h7m-3.5-3.5v7M349 115.5h7m-3.5-3.5v7M349 116.5h7m-3.5-3.5v7M349 116.5h7m-3.5-3.5v7M349 117.5h7m-3.5-3.5v7M350 117.5h7m-3.5-3.5v7M350 114.5h7m-3.5-3.5v7M350 115.5h7m-3.5-3.5v7M350 119.5h7m-3.5-3.5v7M351 115.5h7m-3.5-3.5v7M351 116.5h7m-3.5-3.5v7M351 115.5h7m-3.5-3.5v7M351 117.5h7m-3.5-3.5v7M352 115.5h7m-3.5-3.5v7M352 117.5h7m-3.5-3.5v7M352 117.5h7m-3.5-3.5v7M352 115.5h7m-3.5-3.5v7M353 117.5h7m-3.5-3.5v7M353 118.5h7m-3.5-3.5v7M353 116.5h7m-3.5-3.5v7M353 117.5h7m-3.5-3.5v7M354 118.5h7m-3.5-3.5v7M354 115.5h7m-3.5-3.5v7M354 117.5h7m-3.5-3.5v7M354 117.5h7m-3.5-3.5v7M355 115.5h7m-3.5-3.5v7M355 116.5h7m-3.5-3.5v7M355 115.5h7m-3.5-3.5v7M356 117.5h7m-3.5-3.5v7M356 116.5h7m-3.5-3.5v7M356 117.5h7m-3.5-3.5v7M356 117.5h7m-3.5-3.5v7M357 117.5h7m-3.5-3.5v7M357 116.5h7m-3.5-3.5v7M357 117.5h7m-3.5-3.5v7M357 117.5h7m-3.5-3.5v7M358 116.5h7m-3.5-3.5v7M358 118.5h7m-3.5-3.5v7M358 117.5h7m-3.5-3.5v7M358 115.5h7m-3.5-3.5v7M359 115.5h7m-3.5-3.5v7M359 117.5h7m-3.5-3.5v7M359 119.5h7m-3.5-3.5v7M359 118.5h7m-3.5-3.5v7M360 117.5h7m-3.5-3.5v7M360 116.5h7m-3.5-3.5v7M360 115.5h7m-3.5-3.5v7M360 115.5h7m-3.5-3.5v7M361 116.5h7m-3.5-3.5v7M361 116.5h7m-3.5-3.5v7M361 114.5h7m-3.5-3.5v7M362 113.5h7m-3.5-3.5v7M362 115.5h7m-3.5-3.5v7M362 115.5h7m-3.5-3.5v7M362 114.5h7m-3.5-3.5v7M363 114.5h7m-3.5-3.5v7M363 113.5h7m-3.5-3.5v7M363 111.5h7m-3.5-3.5v7M363 113.5h7m-3.5-3.5v7M364 114.5h7m-3.5-3.5v7M364 114.5h7m-3.5-3.5v7M364 114.5h7m-3.5-3.5v7M364 117.5h7m-3.5-3.5v7M365 113.5h7m-3.5-3.5v7M365 116.5h7m-3.5-3.5v7M365 115.5h7m-3.5-3.5v7M365 114.5h7m-3.5-3.5v7M366 112.5h7m-3.5-3.5v7M366 115.5h7m-3.5-3.5v7M366 113.5h7m-3.5-3.5v7M366 115.5h7m-3.5-3.5v7M367 114.5h7m-3.5-3.5v7M367 113.5h7m-3.5-3.5v7M367 114.5h7m-3.5-3.5v7M368 113.5h7m-3.5-3.5v7M368 115.5h7m-3.5-3.5v7M368 114.5h7m-3.5-3.5v7M368 111.5h7m-3.5-3.5v7M369 113.5h7m-3.5-3.5v7M369 114.5h7m-3.5-3.5v7M369 115.5h7m-3.5-3.5v7M369 115.5h7m-3.5-3.5v7M370 114.5h7m-3.5-3.5v7M370 114.5h7m-3.5-3.5v7M370 112.5h7m-3.5-3.5v7M370 114.5h7m-3.5-3.5v7M371 113.5h7m-3.5-3.5v7M371 114.5h7m-3.5-3.5v7M371 115.5h7m-3.5-3.5v7M371 114.5h7m-3.5-3.5v7M372 113.5h7m-3.5-3.5v7M372 113.5h7m-3.5-3.5v7M372 113.5h7m-3.5-3.5v7M372 114.5h7m-3.5-3.5v7M373 114.5h7m-3.5-3.5v7M373 113.5h7m-3.5-3.5v7M373 113.5h7m-3.5-3.5v7M374 114.5h7m-3.5-3.5v7M374 114.5h7m-3.5-3.5v7M374 114.5h7m-3.5-3.5v7M374 114.5h7m-3.5-3.5v7M375 115.5h7m-3.5-3.5v7M375 114.5h7m-3.5-3.5v7M375 115.5h7m-3.5-3.5v7M375 114.5h7m-3.5-3.5v7M376 114.5h7m-3.5-3.5v7M376 113.5h7m-3.5-3.5v7M376 114.5h7m-3.5-3.5v7M376 112.5h7m-3.5-3.5v7M377 114.5h7m-3.5-3.5v7M377 114.5h7m-3.5-3.5v7M377 115.5h7m-3.5-3.5v7M377 115.5h7m-3.5-3.5v7M378 114.5h7m-3.5-3.5v7M378 114.5h7m-3.5-3.5v7M378 114.5h7m-3.5-3.5v7M378 115.5h7m-3.5-3.5v7M379 114.5h7m-3.5-3.5v7M379 116.5h7m-3.5-3.5v7M379 116.5h7m-3.5-3.5v7M379 114.5h7m-3.5-3.5v7M380 116.5h7m-3.5-3.5v7M380 114.5h7m-3.5-3.5v7M380 116.5h7m-3.5-3.5v7M381 116.5h7m-3.5-3.5v7M381 117.5h7m-3.5-3.5v7M381 117.5h7m-3.5-3.5v7M381 117.5h7m-3.5-3.5v7M382 117.5h7m-3.5-3.5v7M382 116.5h7m-3.5-3.5v7M382 115.5h7m-3.5-3.5v7M382 119.5h7m-3.5-3.5v7M383 117.5h7m-3.5-3.5v7M383 117.5h7m-3.5-3.5v7M383 115.5h7m-3.5-3.5v7M383 117.5h7m-3.5-3.5v7M384 118.5h7m-3.5-3.5v7M384 115.5h7m-3.5-3.5v7M384 117.5h7m-3.5-3.5v7M384 115.5h7m-3.5-3.5v7M385 115.5h7m-3.5-3.5v7M385 118.5h7m-3.5-3.5v7M385 119.5h7m-3.5-3.5v7M385 119.5h7m-3.5-3.5v7M386 116.5h7m-3.5-3.5v7M386 115.5h7m-3.5-3.5v7M386 118.5h7m-3.5-3.5v7M387 114.5h7m-3.5-3.5v7M387 117.5h7m-3.5-3.5v7M387 118.5h7m-3.5-3.5v7M387 116.5h7m-3.5-3.5v7M388 119.5h7m-3.5-3.5v7M388 116.5h7m-3.5-3.5v7M388 116.5h7m-3.5-3.5v7M388 115.5h7m-3.5-3.5v7M389 118.5h7m-3.5-3.5v7M389 116.5h7m-3.5-3.5v7M389 117.5h7m-3.5-3.5v7M389 117.5h7m-3.5-3.5v7M390 116.5h7m-3.5-3.5v7M390 117.5h7m-3.5-3.5v7M390 117.5h7m-3.5-3.5v7M390 117.5h7m-3.5-3.5v7M391 117.5h7m-3.5-3.5v7M391 116.5h7m-3.5-3.5v7M391 116.5h7m-3.5-3.5v7M391 119.5h7m-3.5-3.5v7M392 117.5h7m-3.5-3.5v7M392 116.5h7m-3.5-3.5v7M392 117.5h7m-3.5-3.5v7M393 119.5h7m-3.5-3.5v7M393 115.5h7m-3.5-3.5v7M393 117.5h7m-3.5-3.5v7M393 117.5h7m-3.5-3.5v7M394 116.5h7m-3.5-3.5v7M394 118.5h7m-3.5-3.5v7M394 117.5h7m-3.5-3.5v7M394 116.5h7m-3.5-3.5v7M395 116.5h7m-3.5-3.5v7M395 115.5h7m-3.5-3.5v7M395 118.5h7m-3.5-3.5v7M395 115.5h7m-3.5-3.5v7M396 117.5h7m-3.5-3.5v7M396 116.5h7m-3.5-3.5v7M396 117.5h7m-3.5-3.5v7M396 116.5h7m-3.5-3.5v7M397 116.5h7m-3.5-3.5v7M397 116.5h7m-3.5-3.5v7M397 115.5h7m-3.5-3.5v7M397 117.5h7m-3.5-3.5v7M398 115.5h7m-3.5-3.5v7M398 116.5h7m-3.5-3.5v7M398 117.5h7m-3.5-3.5v7M399 117.5h7m-3.5-3.5v7M399 117.5h7m-3.5-3.5v7M399 116.5h7m-3.5-3.5v7M399 116.5h7m-3.5-3.5v7M400 116.5h7m-3.5-3.5v7M400 117.5h7m-3.5-3.5v7M400 116.5h7m-3.5-3.5v7M400 116.5h7m-3.5-3.5v7M401 116.5h7m-3.5-3.5v7M401 118.5h7m-3.5-3.5v7M401 115.5h7m-3.5-3.5v7M401 116.5h7m-3.5-3.5v7M402 116.5h7m-3.5-3.5v7M402 115.5h7m-3.5-3.5v7M402 115.5h7m-3.5-3.5v7M402 115.5h7m-3.5-3.5v7M403 114.5h7m-3.5-3.5v7M403 118.5h7m-3.5-3.5v7M403 116.5h7m-3.5-3.5v7M403 114.5h7m-3.5-3.5v7M404 114.5h7m-3.5-3.5v7M404 113.5h7m-3.5-3.5v7M404 118.5h7m-3.5-3.5v7M405 115.5h7m-3.5-3.5v7M405 117.5h7m-3.5-3.5v7M405 118.5h7m-3.5-3.5v7M405 117.5h7m-3.5-3.5v7M406 117.5h7m-3.5-3.5v7M406 115.5h7m-3.5-3.5v7M406 115.5h7m-3.5-3.5v7M406 117.5h7m-3.5-3.5v7M407 114.5h7m-3.5-3.5v7M407 119.5h7m-3.5-3.5v7M407 115.5h7m-3.5-3.5v7M407 118.5h7m-3.5-3.5v7M408 118.5h7m-3.5-3.5v7M408 115.5h7m-3.5-3.5v7M408 115.5h7m-3.5-3.5v7M408 115.5h7m-3.5-3.5v7M409 114.5h7m-3.5-3.5v7M409 121.5h7m-3.5-3.5v7M409 116.5h7m-3.5-3.5v7M409 115.5h7m-3.5-3.5v7M410 117.5h7m-3.5-3.5v7M410 117.5h7m-3.5-3.5v7M410 118.5h7m-3.5-3.5v7M410 117.5h7m-3.5-3.5v7M411 116.5h7m-3.5-3.5v7M411 117.5h7m-3.5-3.5v7M411 116.5h7m-3.5-3.5v7M412 116.5h7m-3.5-3.5v7M412 115.5h7m-3.5-3.5v7M412 119.5h7m-3.5-3.5v7M412 114.5h7m-3.5-3.5v7M413 118.5h7m-3.5-3.5v7M413 117.5h7m-3.5-3.5v7M413 116.5h7m-3.5-3.5v7M413 117.5h7m-3.5-3.5v7M414 117.5h7m-3.5-3.5v7M414 115.5h7m-3.5-3.5v7M414 117.5h7m-3.5-3.5v7M414 118.5h7m-3.5-3.5v7M415 119.5h7m-3.5-3.5v7M415 116.5h7m-3.5-3.5v7M415 118.5h7m-3.5-3.5v7M415 116.5h7m-3.5-3.5v7M416 115.5h7m-3.5-3.5v7M416 115.5h7m-3.5-3.5v7M416 119.5h7m-3.5-3.5v7M416 116.5h7m-3.5-3.5v7M417 118.5h7m-3.5-3.5v7M417 116.5h7m-3.5-3.5v7M417 118.5h7m-3.5-3.5v7M418 117.5h7m-3.5-3.5v7M418 118.5h7m-3.5-3.5v7M418 118.5h7m-3.5-3.5v7M418 116.5h7m-3.5-3.5v7M419 119.5h7m-3.5-3.5v7M419 119.5h7m-3.5-3.5v7M419 123.5h7m-3.5-3.5v7M419 118.5h7m-3.5-3.5v7M420 118.5h7m-3.5-3.5v7M420 117.5h7m-3.5-3.5v7M420 117.5h7m-3.5-3.5v7M420 119.5h7m-3.5-3.5v7M421 118.5h7m-3.5-3.5v7M421 117.5h7m-3.5-3.5v7M421 119.5h7m-3.5-3.5v7M421 119.5h7m-3.5-3.5v7M422 118.5h7m-3.5-3.5v7M422 119.5h7m-3.5-3.5v7M422 120.5h7m-3.5-3.5v7M422 119.5h7m-3.5-3.5v7M423 119.5h7m-3.5-3.5v7M423 119.5h7m-3.5-3.5v7M423 117.5h7m-3.5-3.5v7M424 121.5h7m-3.5-3.5v7M424 119.5h7m-3.5-3.5v7M424 119.5h7m-3.5-3.5v7M424 121.5h7m-3.5-3.5v7M425 119.5h7m-3.5-3.5v7M425 119.5h7m-3.5-3.5v7M425 120.5h7m-3.5-3.5v7M425 121.5h7m-3.5-3.5v7M426 124.5h7m-3.5-3.5v7M426 117.5h7m-3.5-3.5v7M426 118.5h7m-3.5-3.5v7M426 118.5h7m-3.5-3.5v7M427 124.5h7m-3.5-3.5v7M427 121.5h7m-3.5-3.5v7M427 119.5h7m-3.5-3.5v7M427 120.5h7m-3.5-3.5v7M428 121.5h7m-3.5-3.5v7M428 119.5h7m-3.5-3.5v7M428 120.5h7m-3.5-3.5v7M428 119.5h7m-3.5-3.5v7M429 117.5h7m-3.5-3.5v7M429 117.5h7m-3.5-3.5v7M429 119.5h7m-3.5-3.5v7M430 118.5h7m-3.5-3.5v7M430 118.5h7m-3.5-3.5v7M430 117.5h7m-3.5-3.5v7M430 119.5h7m-3.5-3.5v7M431 119.5h7m-3.5-3.5v7M431 120.5h7m-3.5-3.5v7M431 121.5h7m-3.5-3.5v7M431 118.5h7m-3.5-3.5v7M432 119.5h7m-3.5-3.5v7M432 120.5h7m-3.5-3.5v7M432 118.5h7m-3.5-3.5v7M432 117.5h7m-3.5-3.5v7M433 119.5h7m-3.5-3.5v7M433 119.5h7m-3.5-3.5v7M433 117.5h7m-3.5-3.5v7M433 119.5h7m-3.5-3.5v7M434 118.5h7m-3.5-3.5v7M434 119.5h7m-3.5-3.5v7M434 119.5h7m-3.5-3.5v7M434 119.5h7m-3.5-3.5v7M435 118.5h7m-3.5-3.5v7M435 118.5h7m-3.5-3.5v7M435 118.5h7m-3.5-3.5v7M436 117.5h7m-3.5-3.5v7M436 118.5h7m-3.5-3.5v7M436 118.5h7m-3.5-3.5v7M436 118.5h7m-3.5-3.5v7M437 117.5h7m-3.5-3.5v7M437 117.5h7m-3.5-3.5v7M437 120.5h7m-3.5-3.5v7M437 118.5h7m-3.5-3.5v7M438 119.5h7m-3.5-3.5v7M438 117.5h7m-3.5-3.5v7M438 117.5h7m-3.5-3.5v7M438 118.5h7m-3.5-3.5v7M439 118.5h7m-3.5-3.5v7M439 117.5h7m-3.5-3.5v7M439 118.5h7m-3.5-3.5v7M439 120.5h7m-3.5-3.5v7M440 118.5h7m-3.5-3.5v7M440 119.5h7m-3.5-3.5v7M440 119.5h7m-3.5-3.5v7M440 119.5h7m-3.5-3.5v7M441 118.5h7m-3.5-3.5v7M441 118.5h7m-3.5-3.5v7M441 118.5h7m-3.5-3.5v7M441 117.5h7m-3.5-3.5v7M442 118.5h7m-3.5-3.5v7M442 118.5h7m-3.5-3.5v7M442 118.5h7m-3.5-3.5v7M443 118.5h7m-3.5-3.5v7M443 116.5h7m-3.5-3.5v7M443 118.5h7m-3.5-3.5v7M443 118.5h7m-3.5-3.5v7M444 117.5h7m-3.5-3.5v7M444 118.5h7m-3.5-3.5v7M444 118.5h7m-3.5-3.5v7M444 118.5h7m-3.5-3.5v7M445 117.5h7m-3.5-3.5v7M445 117.5h7m-3.5-3.5v7M445 118.5h7m-3.5-3.5v7M445 118.5h7m-3.5-3.5v7M446 118.5h7m-3.5-3.5v7M446 117.5h7m-3.5-3.5v7M446 117.5h7m-3.5-3.5v7M446 117.5h7m-3.5-3.5v7M447 117.5h7m-3.5-3.5v7M447 118.5h7m-3.5-3.5v7M447 120.5h7m-3.5-3.5v7M447 117.5h7m-3.5-3.5v7M448 116.5h7m-3.5-3.5v7M448 115.5h7m-3.5-3.5v7M448 115.5h7m-3.5-3.5v7M449 116.5h7m-3.5-3.5v7M449 115.5h7m-3.5-3.5v7M449 116.5h7m-3.5-3.5v7M449 115.5h7m-3.5-3.5v7M450 116.5h7m-3.5-3.5v7M450 117.5h7m-3.5-3.5v7M450 117.5h7m-3.5-3.5v7M450 116.5h7m-3.5-3.5v7M451 113.5h7m-3.5-3.5v7M451 115.5h7m-3.5-3.5v7M451 116.5h7m-3.5-3.5v7M451 115.5h7m-3.5-3.5v7M452 113.5h7m-3.5-3.5v7M452 116.5h7m-3.5-3.5v7M452 115.5h7m-3.5-3.5v7M452 115.5h7m-3.5-3.5v7M453 115.5h7m-3.5-3.5v7M453 115.5h7m-3.5-3.5v7M453 114.5h7m-3.5-3.5v7M453 115.5h7m-3.5-3.5v7M454 115.5h7m-3.5-3.5v7M454 116.5h7m-3.5-3.5v7M454 115.5h7m-3.5-3.5v7M455 117.5h7m-3.5-3.5v7M455 116.5h7m-3.5-3.5v7M455 116.5h7m-3.5-3.5v7M455 114.5h7m-3.5-3.5v7M456 115.5h7m-3.5-3.5v7M456 116.5h7m-3.5-3.5v7M456 117.5h7m-3.5-3.5v7M456 116.5h7m-3.5-3.5v7M457 116.5h7m-3.5-3.5v7M457 116.5h7m-3.5-3.5v7M457 116.5h7m-3.5-3.5v7M457 116.5h7m-3.5-3.5v7M458 115.5h7m-3.5-3.5v7M458 115.5h7m-3.5-3.5v7M458 116.5h7m-3.5-3.5v7M458 116.5h7m-3.5-3.5v7M459 116.5h7m-3.5-3.5v7M459 118.5h7m-3.5-3.5v7M459 116.5h7m-3.5-3.5v7M459 116.5h7m-3.5-3.5v7M460 116.5h7m-3.5-3.5v7M460 117.5h7m-3.5-3.5v7M460 117.5h7m-3.5-3.5v7M461 116.5h7m-3.5-3.5v7M461 116.5h7m-3.5-3.5v7M461 118.5h7m-3.5-3.5v7M461 117.5h7m-3.5-3.5v7M462 118.5h7m-3.5-3.5v7M462 116.5h7m-3.5-3.5v7M462 117.5h7m-3.5-3.5v7M462 116.5h7m-3.5-3.5v7M463 118.5h7m-3.5-3.5v7M463 116.5h7m-3.5-3.5v7M463 120.5h7m-3.5-3.5v7M463 120.5h7m-3.5-3.5v7M464 119.5h7m-3.5-3.5v7M464 114.5h7m-3.5-3.5v7M464 116.5h7m-3.5-3.5v7M464 118.5h7m-3.5-3.5v7M465 117.5h7m-3.5-3.5v7M465 117.5h7m-3.5-3.5v7M465 116.5h7m-3.5-3.5v7M465 118.5h7m-3.5-3.5v7M466 118.5h7m-3.5-3.5v7M466 116.5h7m-3.5-3.5v7M466 116.5h7m-3.5-3.5v7M467 116.5h7m-3.5-3.5v7M467 117.5h7m-3.5-3.5v7M467 118.5h7m-3.5-3.5v7M467 115.5h7m-3.5-3.5v7M468 115.5h7m-3.5-3.5v7M468 116.5h7m-3.5-3.5v7M468 116.5h7m-3.5-3.5v7M468 118.5h7m-3.5-3.5v7M469 116.5h7m-3.5-3.5v7M469 115.5h7m-3.5-3.5v7M469 115.5h7m-3.5-3.5v7M469 117.5h7m-3.5-3.5v7M470 117.5h7m-3.5-3.5v7M470 117.5h7m-3.5-3.5v7M470 116.5h7m-3.5-3.5v7M470 117.5h7m-3.5-3.5v7M471 117.5h7m-3.5-3.5v7M471 116.5h7m-3.5-3.5v7M471 117.5h7m-3.5-3.5v7M471 116.5h7m-3.5-3.5v7M472 115.5h7m-3.5-3.5v7M472 116.5h7m-3.5-3.5v7M472 117.5h7m-3.5-3.5v7M472 116.5h7m-3.5-3.5v7M473 115.5h7m-3.5-3.5v7M473 116.5h7m-3.5-3.5v7M473 116.5h7m-3.5-3.5v7M474 119.5h7m-3.5-3.5v7M474 116.5h7m-3.5-3.5v7M474 118.5h7m-3.5-3.5v7M474 117.5h7m-3.5-3.5v7M475 118.5h7m-3.5-3.5v7M475 118.5h7m-3.5-3.5v7M475 117.5h7m-3.5-3.5v7M475 117.5h7m-3.5-3.5v7M476 117.5h7m-3.5-3.5v7M476 118.5h7m-3.5-3.5v7M476 117.5h7m-3.5-3.5v7M476 116.5h7m-3.5-3.5v7M477 114.5h7m-3.5-3.5v7M477 117.5h7m-3.5-3.5v7M477 116.5h7m-3.5-3.5v7M477 116.5h7m-3.5-3.5v7M478 116.5h7m-3.5-3.5v7M478 117.5h7m-3.5-3.5v7M478 117.5h7m-3.5-3.5v7M478 116.5h7m-3.5-3.5v7M479 115.5h7m-3.5-3.5v7M479 120.5h7m-3.5-3.5v7M479 118.5h7m-3.5-3.5v7M480 115.5h7m-3.5-3.5v7M480 115.5h7m-3.5-3.5v7M480 117.5h7m-3.5-3.5v7M480 117.5h7m-3.5-3.5v7M481 115.5h7m-3.5-3.5v7M481 117.5h7m-3.5-3.5v7M481 115.5h7m-3.5-3.5v7M481 116.5h7m-3.5-3.5v7M482 117.5h7m-3.5-3.5v7M482 115.5h7m-3.5-3.5v7M482 117.5h7m-3.5-3.5v7M482 117.5h7m-3.5-3.5v7M483 117.5h7m-3.5-3.5v7M483 116.5h7m-3.5-3.5v7M483 115.5h7m-3.5-3.5v7M483 116.5h7m-3.5-3.5v7M484 115.5h7m-3.5-3.5v7M484 117.5h7m-3.5-3.5v7M484 116.5h7m-3.5-3.5v7M484 116.5h7m-3.5-3.5v7M485 117.5h7m-3.5-3.5v7M485 115.5h7m-3.5-3.5v7M485 115.5h7m-3.5-3.5v7M486 116.5h7m-3.5-3.5v7M486 115.5h7m-3.5-3.5v7M486 115.5h7m-3.5-3.5v7M486 116.5h7m-3.5-3.5v7M487 115.5h7m-3.5-3.5v7M487 117.5h7m-3.5-3.5v7M487 115.5h7m-3.5-3.5v7M487 116.5h7m-3.5-3.5v7M488 117.5h7m-3.5-3.5v7M488 115.5h7m-3.5-3.5v7M488 116.5h7m-3.5-3.5v7M488 117.5h7m-3.5-3.5v7M489 116.5h7m-3.5-3.5v7M489 116.5h7m-3.5-3.5v7M489 115.5h7m-3.5-3.5v7M489 116.5h7m-3.5-3.5v7M490 115.5h7m-3.5-3.5v7M490 115.5h7m-3.5-3.5v7M490 116.5h7m-3.5-3.5v7M490 114.5h7m-3.5-3.5v7M491 117.5h7m-3.5-3.5v7M491 115.5h7m-3.5-3.5v7M491 115.5h7m-3.5-3.5v7M492 115.5h7m-3.5-3.5v7M492 115.5h7m-3.5-3.5v7M492 118.5h7m-3.5-3.5v7M492 116.5h7m-3.5-3.5v7M493 115.5h7m-3.5-3.5v7M493 116.5h7m-3.5-3.5v7M493 115.5h7m-3.5-3.5v7M493 115.5h7m-3.5-3.5v7M494 115.5h7m-3.5-3.5v7M494 115.5h7m-3.5-3.5v7M494 115.5h7m-3.5-3.5v7M494 114.5h7m-3.5-3.5v7M495 116.5h7m-3.5-3.5v7M495 115.5h7m-3.5-3.5v7M495 116.5h7m-3.5-3.5v7M495 115.5h7m-3.5-3.5v7M496 115.5h7m-3.5-3.5v7M496 114.5h7m-3.5-3.5v7M496 115.5h7m-3.5-3.5v7M496 115.5h7m-3.5-3.5v7M497 116.5h7m-3.5-3.5v7M497 116.5h7m-3.5-3.5v7M497 114.5h7m-3.5-3.5v7M498 114.5h7m-3.5-3.5v7M498 119.5h7m-3.5-3.5v7M498 114.5h7m-3.5-3.5v7M498 116.5h7m-3.5-3.5v7M499 113.5h7m-3.5-3.5v7M499 114.5h7m-3.5-3.5v7M499 116.5h7m-3.5-3.5v7M499 114.5h7m-3.5-3.5v7M500 114.5h7m-3.5-3.5v7M500 115.5h7m-3.5-3.5v7M500 116.5h7m-3.5-3.5v7M500 116.5h7m-3.5-3.5v7M501 115.5h7m-3.5-3.5v7M501 117.5h7m-3.5-3.5v7M501 115.5h7m-3.5-3.5v7M501 117.5h7m-3.5-3.5v7M502 114.5h7m-3.5-3.5v7M502 117.5h7m-3.5-3.5v7M502 114.5h7m-3.5-3.5v7M502 117.5h7m-3.5-3.5v7M503 116.5h7m-3.5-3.5v7M503 116.5h7m-3.5-3.5v7M503 117.5h7m-3.5-3.5v7M503 115.5h7m-3.5-3.5v7M504 116.5h7m-3.5-3.5v7M504 117.5h7m-3.5-3.5v7M504 115.5h7m-3.5-3.5v7M505 114.5h7m-3.5-3.5v7M505 116.5h7m-3.5-3.5v7M505 115.5h7m-3.5-3.5v7M505 114.5h7m-3.5-3.5v7M506 114.5h7m-3.5-3.5v7M506 114.5h7m-3.5-3.5v7M506 115.5h7m-3.5-3.5v7M506 115.5h7m-3.5-3.5v7M507 115.5h7m-3.5-3.5v7M507 113.5h7m-3.5-3.5v7M507 114.5h7m-3.5-3.5v7M507 112.5h7m-3.5-3.5v7M508 114.5h7m-3.5-3.5v7M508 115.5h7m-3.5-3.5v7M508 113.5h7m-3.5-3.5v7M508 114.5h7m-3.5-3.5v7M509 114.5h7m-3.5-3.5v7M509 114.5h7m-3.5-3.5v7M509 114.5h7m-3.5-3.5v7M509 116.5h7m-3.5-3.5v7M510 114.5h7m-3.5-3.5v7M510 114.5h7m-3.5-3.5v7M510 116.5h7m-3.5-3.5v7M511 114.5h7m-3.5-3.5v7M511 114.5h7m-3.5-3.5v7M511 115.5h7m-3.5-3.5v7M511 114.5h7m-3.5-3.5v7M512 115.5h7m-3.5-3.5v7M512 114.5h7m-3.5-3.5v7M512 113.5h7m-3.5-3.5v7M512 115.5h7m-3.5-3.5v7M513 116.5h7m-3.5-3.5v7M513 116.5h7m-3.5-3.5v7M513 115.5h7m-3.5-3.5v7M513 115.5h7m-3.5-3.5v7M514 115.5h7m-3.5-3.5v7M514 116.5h7m-3.5-3.5v7M514 114.5h7m-3.5-3.5v7M514 114.5h7m-3.5-3.5v7M515 116.5h7m-3.5-3.5v7M515 115.5h7m-3.5-3.5v7M515 117.5h7m-3.5-3.5v7M515 116.5h7m-3.5-3.5v7M516 115.5h7m-3.5-3.5v7M516 116.5h7m-3.5-3.5v7M516 116.5h7m-3.5-3.5v7M517 114.5h7m-3.5-3.5v7M517 115.5h7m-3.5-3.5v7M517 115.5h7m-3.5-3.5v7M517 116.5h7m-3.5-3.5v7M518 116.5h7m-3.5-3.5v7M518 114.5h7m-3.5-3.5v7M518 116.5h7m-3.5-3.5v7M518 113.5h7m-3.5-3.5v7M519 114.5h7m-3.5-3.5v7M519 115.5h7m-3.5-3.5v7M519 115.5h7m-3.5-3.5v7M519 115.5h7m-3.5-3.5v7M520 116.5h7m-3.5-3.5v7M520 114.5h7m-3.5-3.5v7M520 114.5h7m-3.5-3.5v7M520 114.5h7m-3.5-3.5v7M521 115.5h7m-3.5-3.5v7M521 115.5h7m-3.5-3.5v7M521 116.5h7m-3.5-3.5v7M521 113.5h7m-3.5-3.5v7M522 113.5h7m-3.5-3.5v7M522 114.5h7m-3.5-3.5v7M522 114.5h7m-3.5-3.5v7M523 114.5h7m-3.5-3.5v7M523 113.5h7m-3.5-3.5v7M523 114.5h7m-3.5-3.5v7M523 114.5h7m-3.5-3.5v7M524 117.5h7m-3.5-3.5v7M524 114.5h7m-3.5-3.5v7M524 115.5h7m-3.5-3.5v7M524 113.5h7m-3.5-3.5v7M525 114.5h7m-3.5-3.5v7M525 114.5h7m-3.5-3.5v7M525 115.5h7m-3.5-3.5v7M525 115.5h7m-3.5-3.5v7M526 115.5h7m-3.5-3.5v7M526 115.5h7m-3.5-3.5v7M526 115.5h7m-3.5-3.5v7M526 116.5h7m-3.5-3.5v7M527 115.5h7m-3.5-3.5v7M527 115.5h7m-3.5-3.5v7M527 115.5h7m-3.5-3.5v7M527 116.5h7m-3.5-3.5v7M528 116.5h7m-3.5-3.5v7M528 115.5h7m-3.5-3.5v7M528 114.5h7m-3.5-3.5v7M529 117.5h7m-3.5-3.5v7M529 114.5h7m-3.5-3.5v7M529 115.5h7m-3.5-3.5v7M529 118.5h7m-3.5-3.5v7M530 117.5h7m-3.5-3.5v7M530 116.5h7m-3.5-3.5v7M530 118.5h7m-3.5-3.5v7M530 116.5h7m-3.5-3.5v7M531 118.5h7m-3.5-3.5v7M531 115.5h7m-3.5-3.5v7M531 117.5h7m-3.5-3.5v7M531 117.5h7m-3.5-3.5v7M532 117.5h7m-3.5-3.5v7M532 118.5h7m-3.5-3.5v7M532 117.5h7m-3.5-3.5v7M532 117.5h7m-3.5-3.5v7M533 116.5h7m-3.5-3.5v7M533 117.5h7m-3.5-3.5v7M533 117.5h7m-3.5-3.5v7M533 118.5h7m-3.5-3.5v7M534 118.5h7m-3.5-3.5v7M534 116.5h7m-3.5-3.5v7M534 120.5h7m-3.5-3.5v7M534 117.5h7m-3.5-3.5v7M535 117.5h7m-3.5-3.5v7M535 117.5h7m-3.5-3.5v7M535 117.5h7m-3.5-3.5v7M536 118.5h7m-3.5-3.5v7M536 117.5h7m-3.5-3.5v7M536 116.5h7m-3.5-3.5v7M536 117.5h7m-3.5-3.5v7M537 118.5h7m-3.5-3.5v7M537 116.5h7m-3.5-3.5v7M537 116.5h7m-3.5-3.5v7M537 116.5h7m-3.5-3.5v7M538 117.5h7m-3.5-3.5v7M538 116.5h7m-3.5-3.5v7M538 116.5h7m-3.5-3.5v7M538 118.5h7m-3.5-3.5v7M539 117.5h7m-3.5-3.5v7M539 117.5h7m-3.5-3.5v7M539 118.5h7m-3.5-3.5v7M539 118.5h7m-3.5-3.5v7M540 117.5h7m-3.5-3.5v7M540 117.5h7m-3.5-3.5v7M540 118.5h7m-3.5-3.5v7M540 116.5h7m-3.5-3.5v7M541 118.5h7m-3.5-3.5v7M541 117.5h7m-3.5-3.5v7M541 116.5h7m-3.5-3.5v7M542 118.5h7m-3.5-3.5v7M542 116.5h7m-3.5-3.5v7M542 117.5h7m-3.5-3.5v7M542 117.5h7m-3.5-3.5v7M543 116.5h7m-3.5-3.5v7M543 116.5h7m-3.5-3.5v7M543 117.5h7m-3.5-3.5v7M543 116.5h7m-3.5-3.5v7M544 117.5h7m-3.5-3.5v7M544 116.5h7m-3.5-3.5v7M544 118.5h7m-3.5-3.5v7M544 116.5h7m-3.5-3.5v7M545 116.5h7m-3.5-3.5v7M545 117.5h7m-3.5-3.5v7M545 117.5h7m-3.5-3.5v7M545 117.5h7m-3.5-3.5v7M546 116.5h7m-3.5-3.5v7M546 116.5h7m-3.5-3.5v7M546 117.5h7m-3.5-3.5v7M546 118.5h7m-3.5-3.5v7M547 115.5h7m-3.5-3.5v7M547 117.5h7m-3.5-3.5v7M547 117.5h7m-3.5-3.5v7M548 118.5h7m-3.5-3.5v7M548 115.5h7m-3.5-3.5v7M548 118.5h7m-3.5-3.5v7M548 118.5h7m-3.5-3.5v7M549 118.5h7m-3.5-3.5v7M549 117.5h7m-3.5-3.5v7M549 116.5h7m-3.5-3.5v7M549 114.5h7m-3.5-3.5v7M550 117.5h7m-3.5-3.5v7M550 117.5h7m-3.5-3.5v7M550 116.5h7m-3.5-3.5v7M550 116.5h7m-3.5-3.5v7M551 116.5h7m-3.5-3.5v7M551 117.5h7m-3.5-3.5v7M551 117.5h7m-3.5-3.5v7M551 116.5h7m-3.5-3.5v7M552 116.5h7m-3.5-3.5v7M552 116.5h7m-3.5-3.5v7M552 117.5h7m-3.5-3.5v7M552 116.5h7m-3.5-3.5v7M553 116.5h7m-3.5-3.5v7M553 116.5h7m-3.5-3.5v7M553 117.5h7m-3.5-3.5v7M554 117.5h7m-3.5-3.5v7M554 116.5h7m-3.5-3.5v7M555 117.5h7m-3.5-3.5v7M555 116.5h7m-3.5-3.5v7M556 117.5h7m-3.5-3.5v7M556 117.5h7m-3.5-3.5v7M557 116.5h7m-3.5-3.5v7M227 122.5h7m-3.5-3.5v7M387 121.5h7m-3.5-3.5v7M411 123.5h7m-3.5-3.5v7M557 147.5h7m-3.5-3.5v7M571 57.5h7m-3.5-3.5v7" fill="none" stroke="#9400d3" stroke-width="1"/>
<rect x="91.5" y="45.5" width="521" height="386" fill="none" stroke="#000" stroke-width="1"/>
</svg>
</body></html>
